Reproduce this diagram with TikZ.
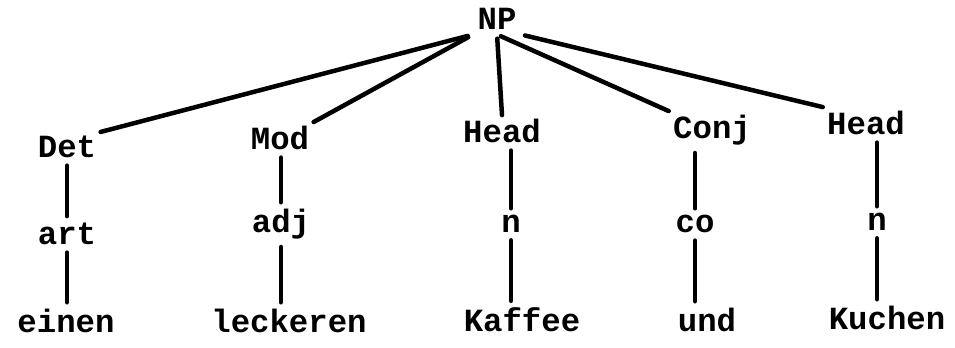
\documentclass[tikz,border=0pt]{standalone}
\usepackage{fontspec}
\newfontfamily\treefont{Liberation Mono}
\usetikzlibrary{calc,positioning}
\tikzset{
  lbl/.style={font=\treefont\bfseries\fontsize{23}{27}\selectfont, inner sep=3pt, anchor=base},
  edge/.style={line width=3.2pt, line cap=round}
}

\begin{document}
\begin{tikzpicture}
\useasboundingbox (0,0) rectangle (23.875,-8.7);
%
\node[lbl] (NP) at (12.425,-0.75) {NP};
%
\node[lbl] (Det) at (1.675,-3.95) {Det};
\node[lbl] (Mod) at (7.0,-3.75) {Mod};
\node[lbl] (HeadA) at (12.55,-3.575) {Head};
\node[lbl] (Conj) at (17.8,-3.475) {Conj};
\node[lbl] (HeadB) at (21.65,-3.375) {Head};
%
\node[lbl] (art) at (1.675,-6.125) {art};
\node[lbl] (adj) at (7.025,-5.825) {adj};
\node[lbl] (nA) at (12.775,-5.825) {n};
\node[lbl] (co) at (17.375,-5.825) {co};
\node[lbl] (nB) at (21.925,-5.775) {n};
%
\node[lbl] (einen) at (1.65,-8.325) {einen};
\node[lbl] (leckeren) at (7.225,-8.325) {leckeren};
\node[lbl] (Kaffee) at (13.05,-8.3) {Kaffee};
\node[lbl] (und) at (17.675,-8.3) {und};
\node[lbl] (Kuchen) at (22.175,-8.25) {Kuchen};
%
\draw[edge, shorten <=4pt] (NP.south west) -- (Det.north east);
\draw[edge, shorten <=4pt] (NP.south west) -- (Mod.north east);
\draw[edge, shorten <=3pt] (NP.south) -- (HeadA.north);
\draw[edge, shorten <=3pt] (NP.south) -- (Conj.north west);
\draw[edge, shorten <=3pt] (NP.south east) -- (HeadB.north west);
%
\foreach \up/\mid/\low in {Det/art/einen, Mod/adj/leckeren, HeadA/nA/Kaffee, Conj/co/und, HeadB/nB/Kuchen}{
  \draw[edge, shorten <=2pt, shorten >=2pt] (\mid.north) -- (\mid.north |- \up.south);
  \draw[edge, shorten <=2pt, shorten >=2pt] (\mid.south) -- (\mid.south |- \low.north);
}
%
\end{tikzpicture}
\end{document}
